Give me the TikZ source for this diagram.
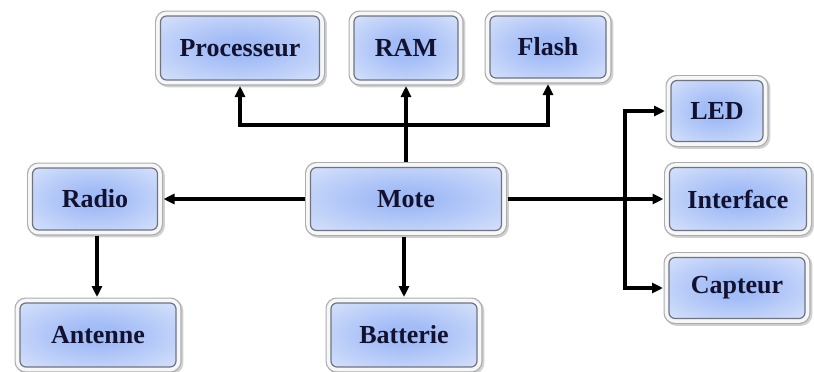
\documentclass[tikz,border=0pt]{standalone}
\usepackage{fontspec}
\setmainfont{Liberation Serif}
\usetikzlibrary{arrows.meta}
\definecolor{cin}{RGB}{162,188,246}
\definecolor{cout}{RGB}{240,244,254}
\definecolor{txt}{RGB}{18,18,48}
\definecolor{frameout}{RGB}{170,172,178}
\definecolor{framein}{RGB}{110,116,128}
\pgfdeclareradialshading{boxshade}{\pgfpoint{0bp}{0bp}}{color(0bp)=(cin); color(8bp)=(cin); color(50bp)=(cout)}
\tikzset{
  blk/.style={rounded corners=6pt, draw=framein, line width=1.2pt,
    shading=boxshade, inner sep=0pt, outer sep=6pt,
    text=txt, font=\bfseries\fontsize{26}{30}\selectfont,
    preaction={draw=black, opacity=0.18, line width=11pt, transform canvas={xshift=1.8pt,yshift=-1.8pt}},
    preaction={draw=frameout, line width=11pt},
    preaction={draw=white!94!gray, line width=8.6pt}},
  arr/.style={line width=3.2pt, line join=miter, -{Triangle[length=11pt,width=10pt]}}
}
\begin{document}
\begin{tikzpicture}[x=1pt,y=-1pt]
\useasboundingbox (0,0) rectangle (814,372);
\node[blk, minimum width=159pt, minimum height=64pt] (proc)  at (240,48)  {Processeur};
\node[blk, minimum width=104pt, minimum height=64pt] (ram)   at (406,48)  {RAM};
\node[blk, minimum width=116pt, minimum height=62pt] (flash) at (548,47)  {Flash};
\node[blk, minimum width=92pt,  minimum height=61pt] (led)   at (717,111) {LED};
\node[blk, minimum width=125pt, minimum height=62pt] (radio) at (95,199)  {Radio};
\node[blk, minimum width=191pt, minimum height=63pt] (mote)  at (406,199) {Mote};
\node[blk, minimum width=137pt, minimum height=63pt] (iface) at (738,199) {Interface};
\node[blk, minimum width=136pt, minimum height=61pt] (capt)  at (737,288) {Capteur};
\node[blk, minimum width=156pt, minimum height=64pt] (ant)   at (98,335)  {Antenne};
\node[blk, minimum width=146pt, minimum height=64pt] (batt)  at (404,335) {Batterie};
\coordinate (bus) at (406,125);
\coordinate (rb) at (625,199);
\coordinate (ra) at (97,199);
\draw[arr] (mote.north) -- (ram.south);
\draw[arr] (bus) -| (proc.south);
\draw[arr] (bus) -| (flash.south);
\draw[arr] (mote.west) -- (radio.east);
\draw[arr] (ra |- radio.south) -- (ra |- ant.north);
\draw[arr] (mote.south -| batt.north) -- (batt.north);
\draw[arr] (mote.east) -- (iface.west);
\draw[arr] (rb) |- (led.west);
\draw[arr] (rb) |- (capt.west);
\end{tikzpicture}
\end{document}
